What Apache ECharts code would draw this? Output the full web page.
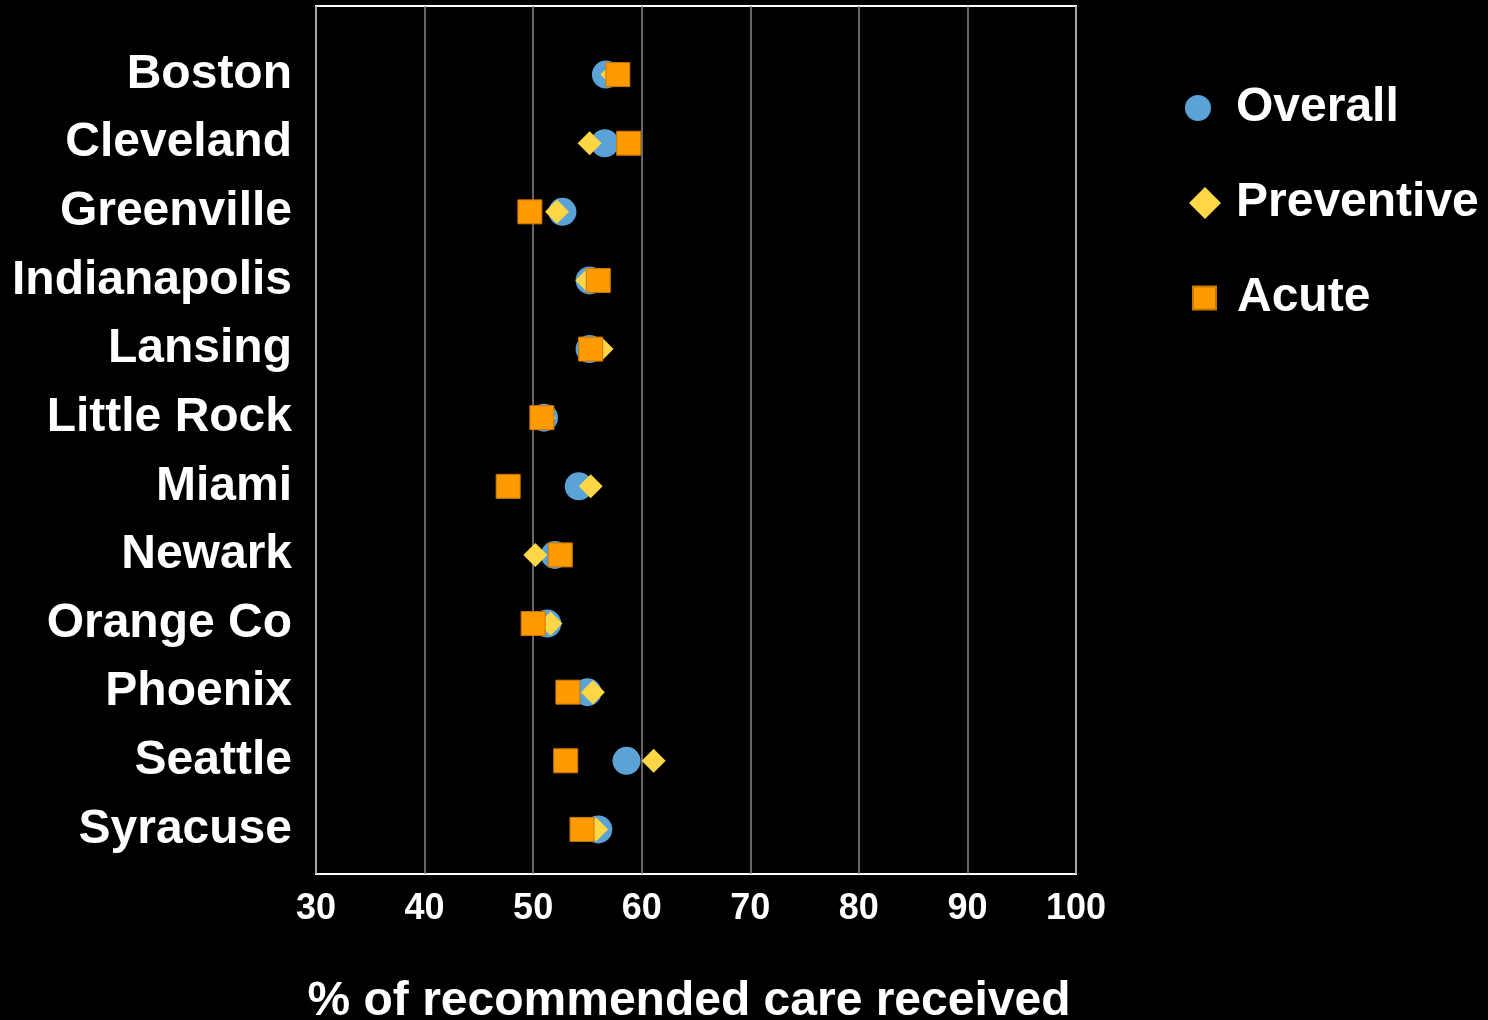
<!DOCTYPE html>
<html>
<head>
<meta charset="utf-8">
<title>% of recommended care received</title>
<script src="https://cdn.jsdelivr.net/npm/echarts@6/dist/echarts.min.js"></script>
<style>
  html, body { margin: 0; padding: 0; background: #000; }
  #chart-box { width: 1488px; height: 1020px; }
</style>
</head>
<body>
<div id="chart-box"></div>
<script>
// cities, top to bottom
const cities = [
  "Boston", "Cleveland", "Greenville", "Indianapolis", "Lansing", "Little Rock",
  "Miami", "Newark", "Orange Co", "Phoenix", "Seattle", "Syracuse"
];
const overall    = [56.7, 56.6, 52.7, 55.2, 55.2, 51.0, 54.2, 52.0, 51.3, 55.0, 58.6, 56.0];
const preventive = [57.3, 55.2, 52.2, 55.0, 56.3, 51.0, 55.3, 50.2, 51.6, 55.5, 61.1, 55.8];
const acute      = [57.8, 58.8, 49.7, 56.0, 55.3, 50.8, 47.7, 52.5, 50.0, 53.2, 53.0, 54.5];
const xTicks = [30, 40, 50, 60, 70, 80, 90, 100];

const font = "'Liberation Sans', Arial, sans-serif";

// pair each value with its city row (1 = Boston at the top)
function toPoints(arr) {
  return arr.map((v, i) => [v, i + 1]);
}

// one legend per entry so each icon keeps its own size
function legendItem(name, icon, w, h, top, pad) {
  return {
    data: [{ name: name, icon: icon }],
    orient: "vertical",
    left: 1231 - w - 5 - pad,
    top: top,
    itemWidth: w,
    itemHeight: h,
    selectedMode: false,
    textStyle: {
      color: "#fff",
      fontSize: 48,
      fontWeight: "bold",
      fontFamily: font,
      lineHeight: 50,
      padding: [0, 0, 0, pad],
    },
  };
}

const chart = echarts.init(document.getElementById("chart-box"));
chart.setOption({
  backgroundColor: "#000",
  animation: false,
  legend: [
    legendItem("Overall", "circle", 26, 30, 78, 20),
    legendItem("Preventive", "diamond", 32, 32, 173, 10),
    legendItem("Acute", "rect", 23, 23, 268, 16),
  ],
  grid: {
    left: 316,
    top: 6,
    right: 412,
    bottom: 146,
    outerBoundsMode: "none",
    show: true,
    borderColor: "#fff",
    borderWidth: 2,
    backgroundColor: "transparent",
  },
  xAxis: {
    type: "value",
    min: xTicks[0],
    max: xTicks[xTicks.length - 1],
    interval: xTicks[1] - xTicks[0],
    name: "% of recommended care received",
    nameLocation: "middle",
    nameGap: 104,
    nameTextStyle: {
      color: "#fff",
      fontSize: 48,
      fontWeight: "bold",
      fontFamily: font,
      padding: [0, 14, 0, 0],
    },
    axisLine: { show: false },
    axisTick: { show: false },
    axisLabel: {
      color: "#fff",
      fontSize: 36,
      fontWeight: "bold",
      fontFamily: font,
      margin: 17,
    },
    splitLine: { show: true, lineStyle: { color: "#8a8a8a", width: 1.5 } },
  },
  yAxis: {
    type: "value",
    inverse: true,
    min: 0,
    max: 12.65,
    interval: 1,
    axisLine: { show: false },
    axisTick: { show: false },
    splitLine: { show: false },
    axisLabel: {
      color: "#fff",
      fontSize: 48,
      fontWeight: "bold",
      fontFamily: font,
      margin: 24,
      formatter: (v) => (Number.isInteger(v) && v >= 1 && v <= cities.length ? cities[v - 1] : ""),
    },
  },
  series: [
    {
      name: "Overall",
      type: "scatter",
      symbol: "circle",
      symbolSize: 28,
      itemStyle: { color: "#5ba3d6", opacity: 1 },
      data: toPoints(overall),
      z: 2,
    },
    {
      name: "Preventive",
      type: "scatter",
      symbol: "diamond",
      symbolSize: 24,
      itemStyle: { color: "#ffd646", opacity: 1 },
      data: toPoints(preventive),
      z: 3,
    },
    {
      name: "Acute",
      type: "scatter",
      symbol: "rect",
      symbolSize: 24,
      itemStyle: { color: "#ff9a00", borderColor: "#c87800", borderWidth: 1, opacity: 1 },
      data: toPoints(acute),
      z: 4,
    },
  ],
});
</script>
</body>
</html>
